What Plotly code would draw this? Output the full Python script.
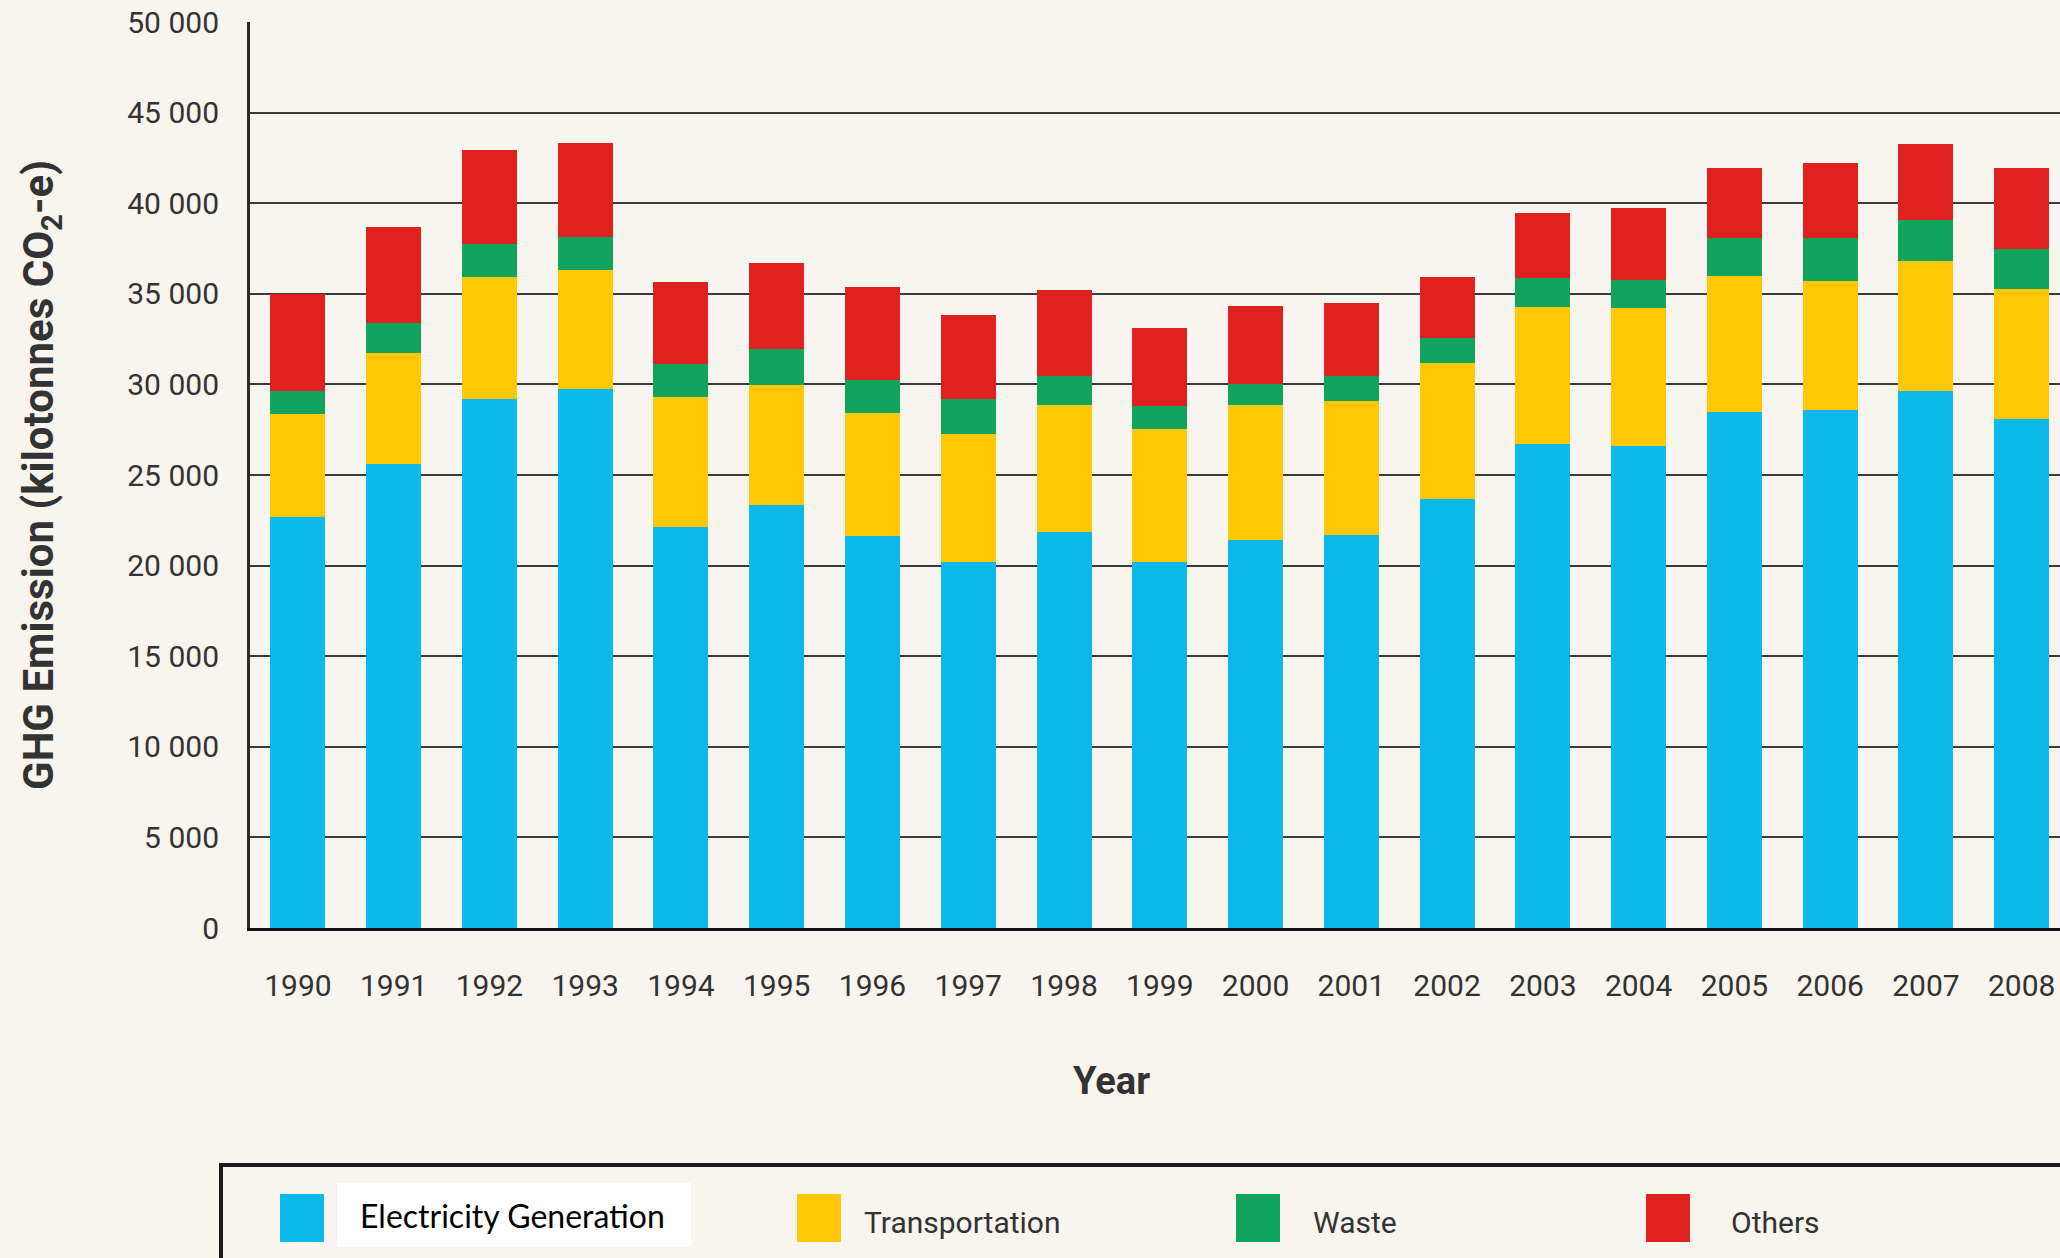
import plotly.graph_objects as go

# ---------------- data ----------------
YEARS = ["1990", "1991", "1992", "1993", "1994", "1995", "1996", "1997", "1998", "1999",
         "2000", "2001", "2002", "2003", "2004", "2005", "2006", "2007", "2008"]
ELECTRICITY = [22690, 25625, 29200, 29730, 22130, 23330, 21610, 20190, 21850, 20180,
               21430, 21670, 23700, 26730, 26610, 28480, 28570, 29640, 28090]
TRANSPORTATION = [5700, 6105, 6750, 6600, 7160, 6630, 6820, 7100, 7025, 7350,
                  7410, 7440, 7460, 7555, 7620, 7530, 7155, 7170, 7160]
WASTE = [1250, 1660, 1810, 1780, 1820, 1970, 1840, 1910, 1610, 1270,
         1160, 1375, 1375, 1575, 1530, 2080, 2330, 2250, 2230]
OTHERS = [5360, 5270, 5160, 5220, 4520, 4790, 5080, 4640, 4750, 4290,
          4340, 3980, 3420, 3625, 3950, 3850, 4190, 4195, 4465]
SERIES_NAMES = ["Electricity Generation", "Transportation", "Waste", "Others"]
Y_TICK_VALUES = [0, 5000, 10000, 15000, 20000, 25000, 30000, 35000, 40000, 45000, 50000]
Y_TICK_LABELS = ["0", "5 000", "10 000", "15 000", "20 000", "25 000",
                 "30 000", "35 000", "40 000", "45 000", "50 000"]

# ---------------- style ----------------
COLORS = ["#0DB9E9", "#FFC806", "#10A45C", "#E1211F"]
BG = "#F8F4EE"
W, H = 2060, 1258
L, R, T, B = 250, 0, 22, 330
PW, PH = W - L - R, H - T - B


def px_x(x):
    return (x - L) / PW


def px_y(y):
    return (H - B - y) / PH


fig = go.Figure()
for name, vals, col in zip(SERIES_NAMES, [ELECTRICITY, TRANSPORTATION, WASTE, OTHERS], COLORS):
    fig.add_trace(go.Bar(x=YEARS, y=vals, name=name, marker=dict(color=col, line=dict(width=0)),
                         showlegend=False))

fig.update_layout(
    width=W, height=H,
    margin=dict(l=L, r=R, t=T, b=B, pad=0),
    paper_bgcolor=BG, plot_bgcolor=BG,
    barmode="stack", bargap=0.426,
    font=dict(family="Roboto, sans-serif", color="#333333"),
)
fig.update_xaxes(
    type="category", range=[-0.5, 18.4],
    showgrid=False, showline=True, linecolor="#111111", linewidth=3,
    ticks="", ticklabelstandoff=29,
    tickfont=dict(family="Roboto", size=30, color="#333333"),
)
fig.update_yaxes(
    range=[0, 50000], tickvals=Y_TICK_VALUES, ticktext=Y_TICK_LABELS,
    showgrid=True, gridcolor="#3A3A3A", gridwidth=2, zeroline=False,
    showline=True, linecolor="#2A2A2A", linewidth=3,
    ticks="", ticklabelstandoff=22,
    tickfont=dict(family="Roboto", size=30, color="#333333"),
    title=dict(text="GHG Emission (kilotonnes CO<sub>2</sub>-e)", standoff=61,
               font=dict(family="Roboto", size=42, color="#333333", weight=700)),
)

# x axis title
fig.add_annotation(text="Year", xref="paper", yref="paper", x=px_x(1111), y=px_y(1081),
                   xanchor="center", yanchor="middle", showarrow=False,
                   font=dict(family="Roboto", size=38, color="#333333", weight=700))

# legend box (drawn)
shapes = [dict(type="rect", xref="paper", yref="paper",
               x0=px_x(221), x1=px_x(2075), y0=px_y(1165), y1=px_y(1275),
               line=dict(color="#1A1A1A", width=4), fillcolor="rgba(0,0,0,0)", layer="above"),
          dict(type="rect", xref="paper", yref="paper",
               x0=px_x(337), x1=px_x(691), y0=px_y(1183), y1=px_y(1247),
               line=dict(width=0), fillcolor="#FFFFFF", layer="above")]
SW_X = [280, 797, 1236, 1646]
TX_X = [358, 862, 1311, 1729]
for i, name in enumerate(SERIES_NAMES):
    shapes.append(dict(type="rect", xref="paper", yref="paper",
                       x0=px_x(SW_X[i]), x1=px_x(SW_X[i] + 44), y0=px_y(1194), y1=px_y(1242),
                       line=dict(width=0), fillcolor=COLORS[i], layer="above"))
    if i == 0:
        f = dict(family="Lato", size=32, color="#000000")
        yc = 1215
    else:
        f = dict(family="Roboto", size=30, color="#333333")
        yc = 1222
    fig.add_annotation(text=name, xref="paper", yref="paper", x=px_x(TX_X[i]), y=px_y(yc),
                       xanchor="left", yanchor="middle", showarrow=False, font=f)
fig.update_layout(shapes=shapes)

fig.write_html("out.html", config={"displayModeBar": False},
               post_script="document.body.style.margin='0';document.body.style.overflow='hidden';")
